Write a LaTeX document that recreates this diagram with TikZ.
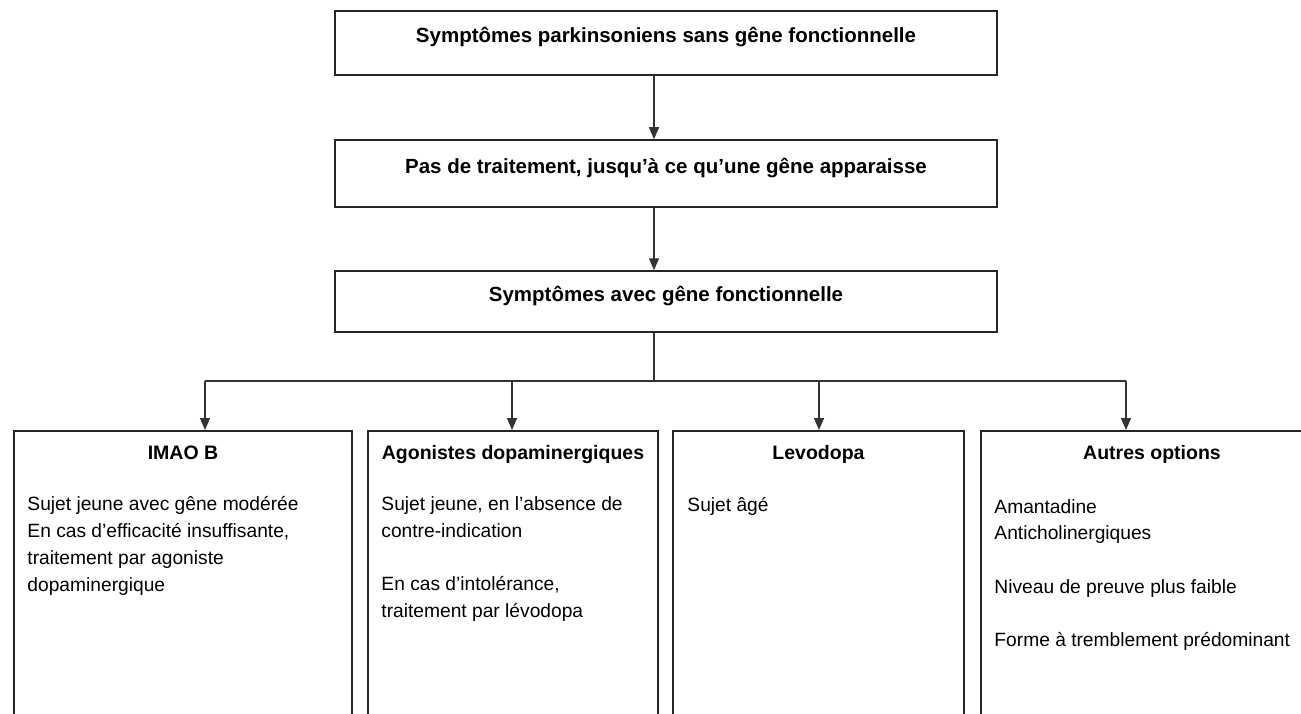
\documentclass[tikz,border=0pt]{standalone}
\usepackage{fontspec}
\setmainfont{Liberation Sans}
\usetikzlibrary{arrows.meta,positioning}
\tikzset{
BOX/.style ={draw=black!85,line width=1.5pt,rectangle,minimum width=662pt,font=\bfseries\fontsize{20.5}{24}\selectfont,text height=8pt,text depth=8pt},
OPTION/.style ={draw=black!85,line width=1.5pt,rectangle,anchor=north,minimum height=400pt},
HEAD/.style={font=\bfseries\fontsize{19.5}{24}\selectfont,anchor=base,inner sep=0pt},
BODY/.style={font=\fontsize{19.2}{26.7}\selectfont,anchor=base west,inner sep=0pt,align=left},
LINK/.style={draw=black!80,line width=1.3pt},
FLOW/.style={LINK,-{Triangle[length=12pt,width=10pt]}},
}
\begin{document}
\begin{tikzpicture}[x=1pt,y=-1pt]
	\path[use as bounding box] (0,0) rectangle (1301,714);
	\clip (0,0) rectangle (1301,714);
	%steps
	\node[BOX,minimum height=64pt] (sans) at (666,43) {Symptômes parkinsoniens sans gêne fonctionnelle};
	\node[BOX,minimum height=67pt] (pas) at (666,173.5) {Pas de traitement, jusqu’à ce qu’une gêne apparaisse};
	\node[BOX,minimum height=61pt] (avec) at (666,301.5) {Symptômes avec gêne fonctionnelle};
	%options
	\node[OPTION,minimum width=338pt] (imao) at (183,430) {};
	\node[OPTION,minimum width=290pt] (agon) at (513,430) {};
	\node[OPTION,minimum width=291pt] (levo) at (818.5,430) {};
	\node[OPTION,minimum width=342pt] (autre) at (1152,430) {};
	\node[HEAD] (imaoh) at ([yshift=-29pt]imao.north) {IMAO B};
	\node[HEAD] (agonh) at ([yshift=-29pt]agon.north) {Agonistes dopaminergiques};
	\node[HEAD] (levoh) at ([yshift=-29pt]levo.north) {Levodopa};
	\node[HEAD] (autreh) at ([yshift=-29pt]autre.north) {Autres options};
	% base = last line
	\node[BODY] (imaob) at ([xshift=14pt,yshift=-161pt]imao.north west)
		{Sujet jeune avec gêne modérée\\En cas d’efficacité insuffisante,\\traitement par agoniste\\dopaminergique};
	\node[BODY] (agonb) at ([xshift=14pt,yshift=-187.5pt]agon.north west)
		{Sujet jeune, en l’absence de\\contre-indication\\[26.7pt]En cas d’intolérance,\\traitement par lévodopa};
	\node[BODY] (levob) at ([xshift=15pt,yshift=-81pt]levo.north west) {Sujet âgé};
	\node[BODY] (autreb) at ([xshift=14pt,yshift=-216.5pt]autre.north west)
		{Amantadine\\Anticholinergiques\\[26.7pt]Niveau de preuve plus faible\\[26.7pt]Forme à tremblement prédominant};
	%connectors
	\coordinate (d0) at (654,381);
	\coordinate (d1) at (205,381);
	\coordinate (d2) at (512,381);
	\coordinate (d3) at (819,381);
	\coordinate (d4) at (1126,381);
	\draw[FLOW] (sans.south -| d0) -- (pas.north -| d0);
	\draw[FLOW] (pas.south -| d0) -- (avec.north -| d0);
	\draw[LINK] (avec.south -| d0) -- (d0);
	\draw[LINK] (d1) -- (d4);
	\foreach \d/\n in {d1/imao,d2/agon,d3/levo,d4/autre} \draw[FLOW] (\d) -- (\d |- \n.north);
\end{tikzpicture}
\end{document}
